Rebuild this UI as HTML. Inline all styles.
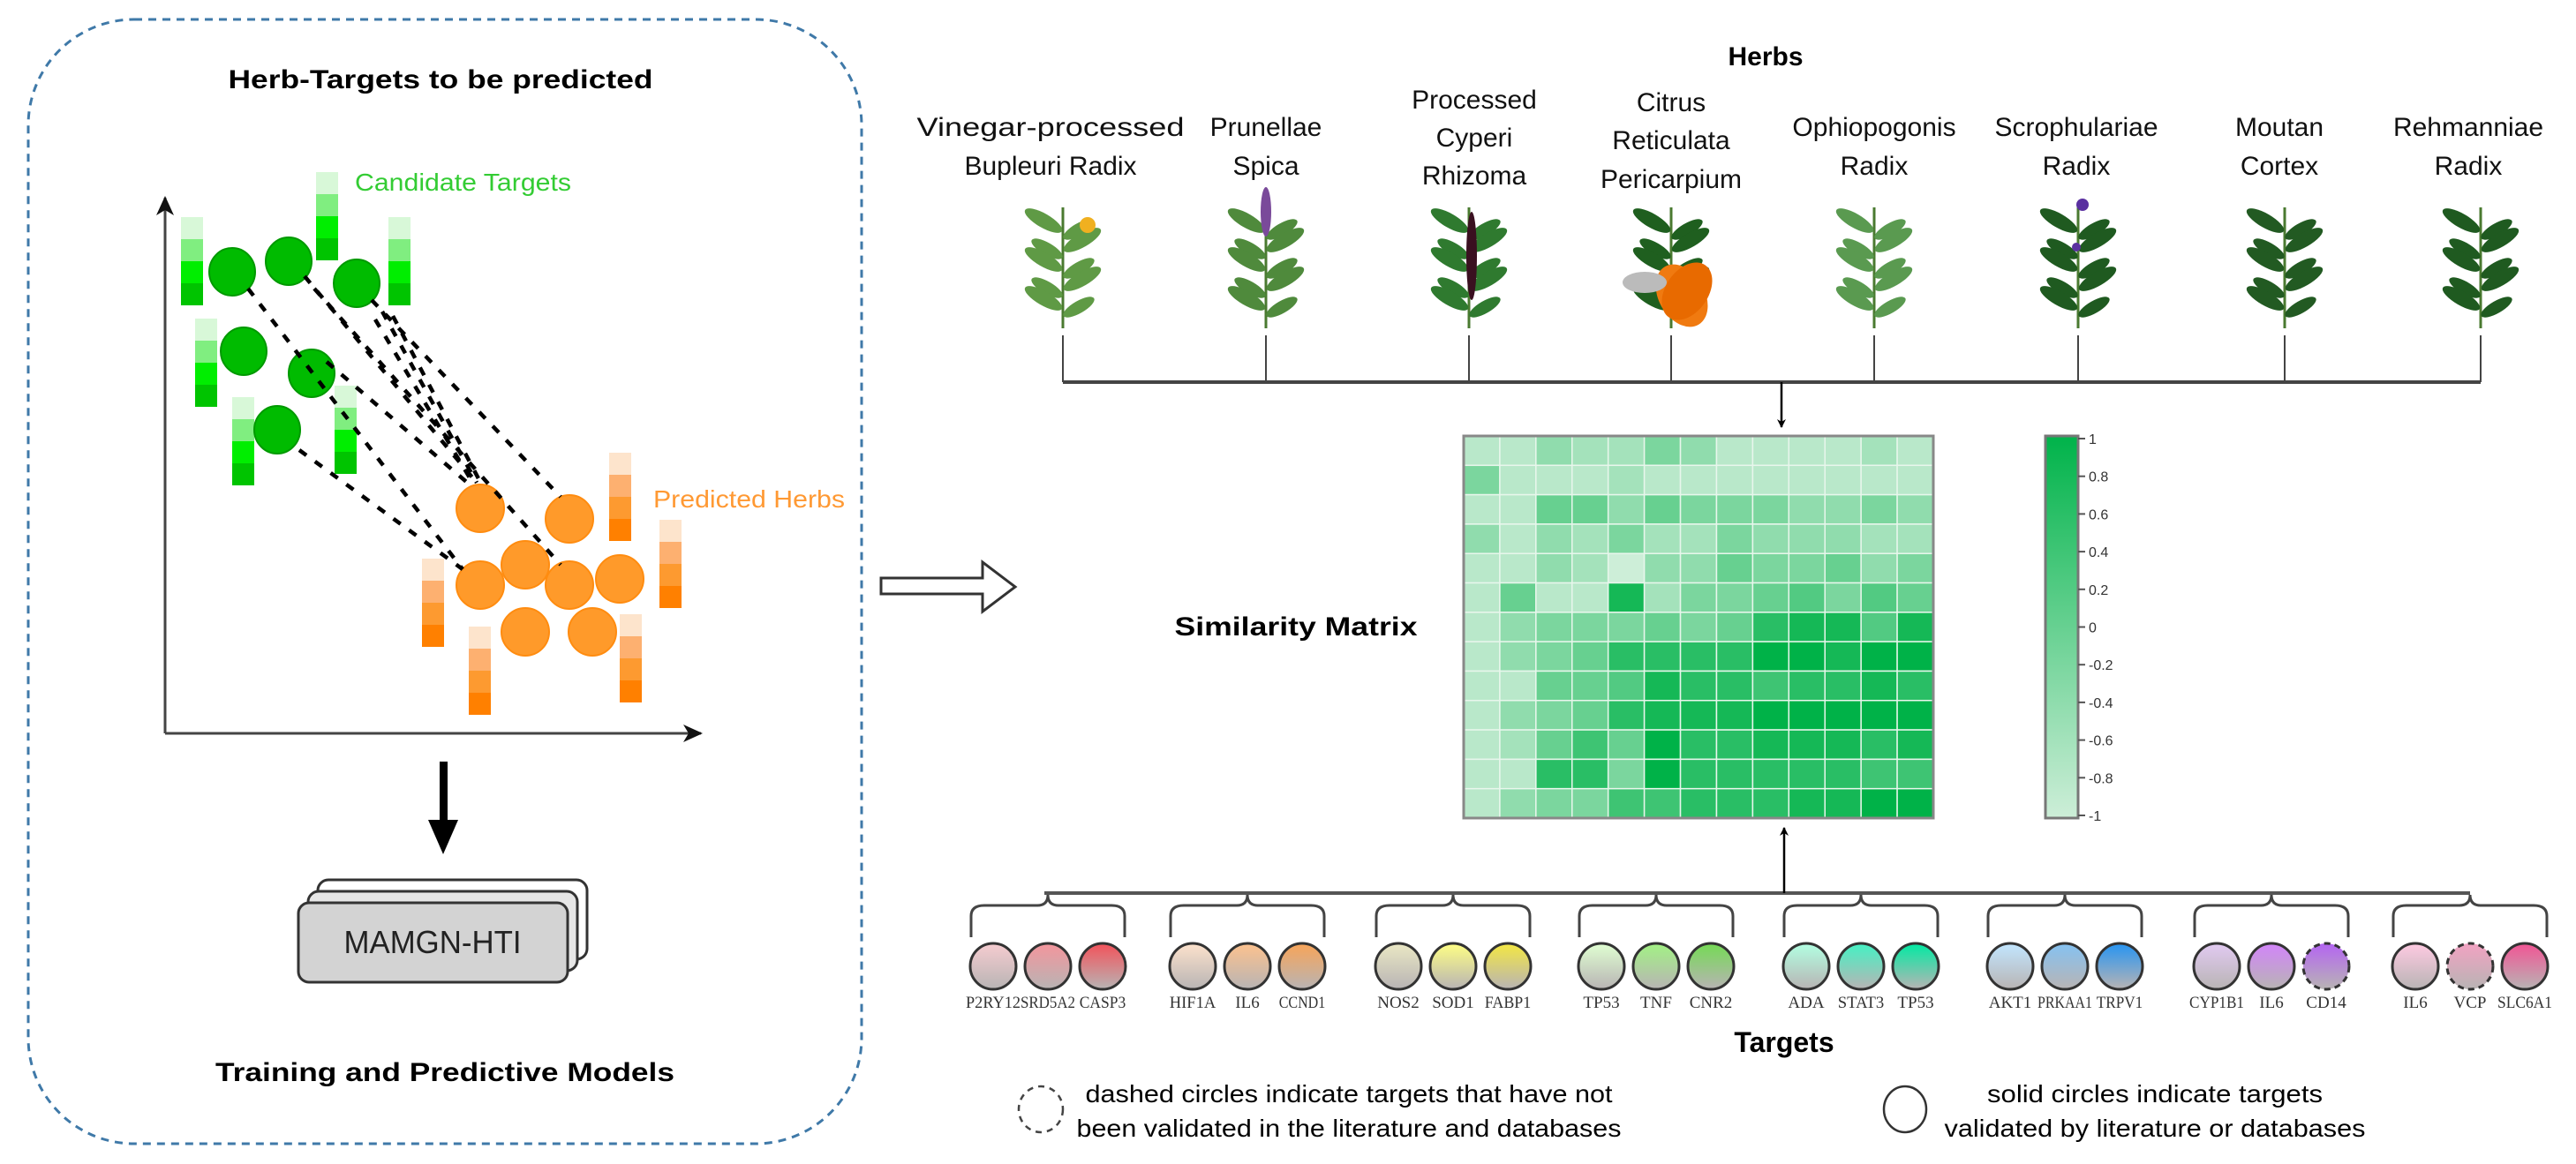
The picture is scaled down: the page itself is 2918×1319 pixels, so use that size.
<!DOCTYPE html>
<html><head><meta charset="utf-8"><style>
html,body{margin:0;padding:0;background:#fff}
svg{display:block}
text{font-family:"Liberation Sans",sans-serif}
.ser{font-family:"Liberation Serif",serif}
</style></head><body>
<svg id="s" xmlns="http://www.w3.org/2000/svg" width="2918" height="1319" viewBox="0 0 2918 1319">
<defs>
<marker id="ah" markerWidth="10" markerHeight="10" refX="9" refY="5" orient="auto" markerUnits="userSpaceOnUse"><path d="M0,0 L10,5 L0,10 L3,5 Z" fill="#000"/></marker>
<marker id="ah2" markerWidth="22" markerHeight="22" refX="20" refY="11" orient="auto" markerUnits="userSpaceOnUse"><path d="M0,1 L22,11 L0,21 L6,11 Z" fill="#111"/></marker>
<linearGradient id="cb" x1="0" y1="0" x2="0" y2="1"><stop offset="0" stop-color="#00b34a"/><stop offset="1" stop-color="#cdeed8"/></linearGradient>
</defs>
<rect x="32" y="22" width="944" height="1274" rx="120" fill="none" stroke="#3f79a8" stroke-width="3" stroke-dasharray="9,7"/>
<text x="499" y="100" font-size="30" font-weight="bold" text-anchor="middle" textLength="481" lengthAdjust="spacingAndGlyphs">Herb-Targets to be predicted</text>
<text x="402" y="216" font-size="28" fill="#33cc33" textLength="245" lengthAdjust="spacingAndGlyphs">Candidate Targets</text>
<text x="740" y="575" font-size="28" fill="#ff9933" textLength="217" lengthAdjust="spacingAndGlyphs">Predicted Herbs</text>
<line x1="187" y1="831" x2="187" y2="224" stroke="#444" stroke-width="3" marker-end="url(#ah2)"/>
<line x1="187" y1="831" x2="794" y2="831" stroke="#444" stroke-width="3" marker-end="url(#ah2)"/>
<g id="left"></g>
<rect x="498" y="863" width="9" height="70" fill="#000"/>
<path d="M485,929 L519,929 L502,968 Z" fill="#000"/>
<rect x="360" y="997" width="305" height="90" rx="12" fill="#fff" stroke="#333" stroke-width="3"/>
<rect x="349" y="1010" width="305" height="90" rx="12" fill="#e6e6e6" stroke="#333" stroke-width="3"/>
<rect x="338" y="1023" width="305" height="90" rx="12" fill="#d3d3d3" stroke="#333" stroke-width="3"/>
<text x="490" y="1080" font-size="36" text-anchor="middle" fill="#222" textLength="201" lengthAdjust="spacingAndGlyphs">MAMGN-HTI</text>
<text x="504" y="1225" font-size="30" font-weight="bold" text-anchor="middle" textLength="520" lengthAdjust="spacingAndGlyphs">Training and Predictive Models</text>
<path d="M998,655 L1113,655 L1113,637 L1150,665 L1113,693 L1113,673 L998,673 Z" fill="#fff" stroke="#333" stroke-width="3"/>
<text x="2000" y="74" font-size="30" font-weight="bold" text-anchor="middle">Herbs</text>
<g id="herbs"></g>
<line x1="1204" y1="433" x2="2810" y2="433" stroke="#444" stroke-width="4"/>
<line x1="2018" y1="433" x2="2018" y2="484" stroke="#000" stroke-width="2.5" marker-end="url(#ah)"/>
<text x="1468" y="720" font-size="30" font-weight="bold" text-anchor="middle" textLength="275" lengthAdjust="spacingAndGlyphs">Similarity Matrix</text>
<g id="mat"></g>
<rect x="2317" y="494" width="37" height="433" fill="url(#cb)" stroke="#777" stroke-width="3"/>
<g id="cbt"></g>
<line x1="1183" y1="1012" x2="2798" y2="1012" stroke="#555" stroke-width="4"/>
<line x1="2021" y1="1012" x2="2021" y2="938" stroke="#000" stroke-width="2.5" marker-end="url(#ah)"/>
<g id="tg"></g>
<text x="2021" y="1192" font-size="32" font-weight="bold" text-anchor="middle">Targets</text>
<ellipse cx="1179" cy="1257" rx="25" ry="26" fill="none" stroke="#444" stroke-width="2.5" stroke-dasharray="7,6"/>
<text x="1528" y="1249" font-size="28" text-anchor="middle" textLength="597" lengthAdjust="spacingAndGlyphs">dashed circles indicate targets that have not</text>
<text x="1528" y="1288" font-size="28" text-anchor="middle" textLength="617" lengthAdjust="spacingAndGlyphs">been validated in the literature and databases</text>
<ellipse cx="2158" cy="1257" rx="24" ry="26" fill="none" stroke="#333" stroke-width="2.5"/>
<text x="2441" y="1249" font-size="28" text-anchor="middle" textLength="380" lengthAdjust="spacingAndGlyphs">solid circles indicate targets</text>
<text x="2441" y="1288" font-size="28" text-anchor="middle" textLength="477" lengthAdjust="spacingAndGlyphs">validated by literature or databases</text>
</svg>
<script>
var NS="http://www.w3.org/2000/svg";
function el(p,t,a,txt){var e=document.createElementNS(NS,t);for(var k in a)e.setAttribute(k,a[k]);if(txt!==undefined)e.textContent=txt;p.appendChild(e);return e;}
var L=document.getElementById('left');
var gc=["#d8f8d8","#80ee80","#00ee00","#00c400"], oc=["#fde4cc","#fdb070","#fd9a30","#ff8000"];
[[205,246],[358,195],[440,246],[221,361],[263,450],[379,437]].forEach(function(b){for(var i=0;i<4;i++)el(L,'rect',{x:b[0],y:b[1]+i*25,width:25,height:25,fill:gc[i]});});
[[690,513],[747,589],[478,633],[531,710],[702,696]].forEach(function(b){for(var i=0;i<4;i++)el(L,'rect',{x:b[0],y:b[1]+i*25,width:25,height:25,fill:oc[i]});});
[[263,308],[327,296],[404,321],[276,398],[353,423],[314,487]].forEach(function(c){el(L,'ellipse',{cx:c[0],cy:c[1],rx:26,ry:27,fill:'#00bb00',stroke:'#009900','stroke-width':2});});
[[544,576],[645,588],[544,663],[595,640],[645,663],[702,656],[595,716],[671,716]].forEach(function(c){el(L,'ellipse',{cx:c[0],cy:c[1],rx:27,ry:27,fill:'#ff9a2a',stroke:'#ff8c10','stroke-width':2});});
[[281,327,524,645],[345,313,540,547],[356,327,635,640],[421,340,635,563],[433,353,540,547],[445,358,545,548],[425,362,536,548],[370,410,533,550],[339,510,524,645]].forEach(function(l){el(L,'line',{x1:l[0],y1:l[1],x2:l[2],y2:l[3],stroke:'#000','stroke-width':4.5,'stroke-dasharray':'10,12'});});
var H=document.getElementById('herbs');
var herbs=[[1190,1204,[["Vinegar-processed",143,303],["Bupleuri Radix",187,0]]],[1434,1434,[["Prunellae",143,0],["Spica",187,0]]],[1670,1664,[["Processed",112,0],["Cyperi",155,0],["Rhizoma",198,0]]],[1893,1893,[["Citrus",115,0],["Reticulata",158,0],["Pericarpium",202,0]]],[2123,2123,[["Ophiopogonis",143,0],["Radix",187,0]]],[2352,2354,[["Scrophulariae",143,0],["Radix",187,0]]],[2582,2588,[["Moutan",143,0],["Cortex",187,0]]],[2796,2810,[["Rehmanniae",143,0],["Radix",187,0]]]];
herbs.forEach(function(h,idx){
 h[2].forEach(function(t){var a={x:h[0],y:t[1]+11,'font-size':30,'text-anchor':'middle',fill:'#111'};if(t[2]){a.textLength=t[2];a.lengthAdjust='spacingAndGlyphs';}el(H,'text',a,t[0]);});
 var x=h[1];
 el(H,'line',{x1:x,y1:380,x2:x,y2:433,stroke:'#444','stroke-width':2});
 el(H,'line',{x1:x,y1:372,x2:x,y2:235,stroke:'#4a7a30','stroke-width':3});
 var lc=['#5f9a45','#4f8a3c','#2f7a2f','#1f5f1f','#5a9a50','#1f5a20','#225a22','#1f5a20'][idx];
 for(var i=0;i<5;i++){var y=250+i*22,s=(i%2?1:-1);el(H,'ellipse',{cx:x+s*22,cy:y,rx:24,ry:8,fill:lc,transform:'rotate('+(s*-30)+' '+(x+s*22)+' '+y+')'});el(H,'ellipse',{cx:x-s*18,cy:y+10,rx:20,ry:7,fill:lc,transform:'rotate('+(s*30)+' '+(x-s*18)+' '+(y+10)+')'});}
 if(idx==0)el(H,'circle',{cx:x+28,cy:255,r:9,fill:'#f0b020'});
 if(idx==1)el(H,'ellipse',{cx:x,cy:240,rx:6,ry:28,fill:'#7a4a9a'});
 if(idx==2)el(H,'ellipse',{cx:x+3,cy:290,rx:6,ry:50,fill:'#3a1020'});
 if(idx==3){el(H,'ellipse',{cx:x+12,cy:335,rx:26,ry:38,fill:'#f07a10',transform:'rotate(-30 '+(x+12)+' 335)'});el(H,'ellipse',{cx:x+18,cy:330,rx:24,ry:36,fill:'#e86a00',transform:'rotate(35 '+(x+18)+' 330)'});el(H,'ellipse',{cx:x-30,cy:320,rx:25,ry:12,fill:'#bbb'});}
 if(idx==5){el(H,'circle',{cx:x+5,cy:232,r:7,fill:'#5a30a0'});el(H,'circle',{cx:x-2,cy:280,r:5,fill:'#5a30a0'});}
});
var M=document.getElementById('mat');
var v=[[1,1,3,2,2,4,3,1,1,1,1,2,1],[4,1,1,1,2,1,1,1,1,1,1,1,1],[1,1,5,5,3,5,4,4,4,3,3,4,3],[3,1,3,2,4,2,2,4,3,3,3,2,2],[1,1,3,2,0,3,3,5,4,4,5,3,4],[1,5,1,1,9,2,4,4,5,6,4,6,5],[1,3,4,4,4,5,4,5,8,9,9,6,9],[1,3,4,5,8,8,8,8,10,10,9,10,10],[1,1,5,5,6,9,8,8,7,8,8,9,8],[1,3,4,5,8,9,9,9,10,10,10,10,10],[1,2,5,7,5,10,8,8,9,9,9,8,9],[1,1,8,8,4,10,8,8,8,8,8,7,7],[1,3,4,4,7,7,8,8,8,9,9,10,10]];
var x0=1658,y0=494,cw=(2190-1658)/13,ch=(927-494)/13;
function mix(t){var a=[205,238,216],b=[0,178,72];return 'rgb('+a.map(function(c,i){return Math.round(c+(b[i]-c)*t);}).join(',')+')';}
for(var r=0;r<13;r++)for(var c=0;c<13;c++)el(M,'rect',{x:x0+c*cw,y:y0+r*ch,width:cw,height:ch,fill:mix(v[r][c]/10),stroke:'#e8f6ec','stroke-width':1.5});
el(M,'rect',{x:x0,y:y0,width:2190-x0,height:927-y0,fill:'none',stroke:'#888','stroke-width':3});
var C=document.getElementById('cbt');
["1","0.8","0.6","0.4","0.2","0","-0.2","-0.4","-0.6","-0.8","-1"].forEach(function(t,i){var y=497+i*(427/10);el(C,'line',{x1:2354,y1:y,x2:2362,y2:y,stroke:'#555','stroke-width':2});el(C,'text',{x:2366,y:y+6,'font-size':16,fill:'#333'},t);});
var T=document.getElementById('tg');
var groups=[[1187,[["P2RY12","#f6ccd0"],["SRD5A2","#f4959c"],["CASP3","#f3525a"]]],[1413,[["HIF1A","#fde2cc"],["IL6","#fdc28e"],["CCND1","#f8a458"]]],[1646,[["NOS2","#eae8c4"],["SOD1","#ffff84"],["FABP1","#f4e842"]]],[1876,[["TP53","#e0ffd2"],["TNF","#a2f284"],["CNR2","#74da54"]]],[2108,[["ADA","#b2ffe2"],["STAT3","#44f2c4"],["TP53","#00eaa2"]]],[2339,[["AKT1","#c2e6ff"],["PRKAA1","#84c2f2"],["TRPV1","#2694f2"]]],[2573,[["CYP1B1","#e2caf2"],["IL6","#d284fa"],["CD14","#b464f2",1]]],[2798,[["IL6","#ffcae2"],["VCP","#f2a2c2",1],["SLC6A1","#f25494"]]]];
var defs=document.querySelector('defs');
groups.forEach(function(g,gi){
 var cx=g[0];
 el(T,'path',{d:'M'+(cx-87)+',1062 L'+(cx-87)+',1038 Q'+(cx-87)+',1026 '+(cx-72)+',1026 L'+(cx-12)+',1026 Q'+(cx)+',1026 '+cx+',1014 Q'+cx+',1026 '+(cx+12)+',1026 L'+(cx+72)+',1026 Q'+(cx+87)+',1026 '+(cx+87)+',1038 L'+(cx+87)+',1062',fill:'none',stroke:'#444','stroke-width':3});
 g[1].forEach(function(t,i){
  var x=cx+(i-1)*62, id='g'+gi+'_'+i;
  var lg=el(defs,'linearGradient',{id:id,x1:0,y1:0,x2:0,y2:1});
  el(lg,'stop',{offset:0,'stop-color':t[1]});el(lg,'stop',{offset:1,'stop-color':'#b8b4b4'});
  var a={cx:x,cy:1095,rx:26,ry:26,fill:'url(#'+id+')',stroke:'#333','stroke-width':3};
  if(t[2])a['stroke-dasharray']='7,5';
  el(T,'ellipse',a);
  var ta={x:x,y:1142,'font-size':19,'text-anchor':'middle','class':'ser',fill:'#333'};
  if(t[0].length>4){ta.textLength=Math.min(t[0].length*10.5,62);ta.lengthAdjust='spacingAndGlyphs';}
  el(T,'text',ta,t[0]);
 });
});
</script>
</body></html>
